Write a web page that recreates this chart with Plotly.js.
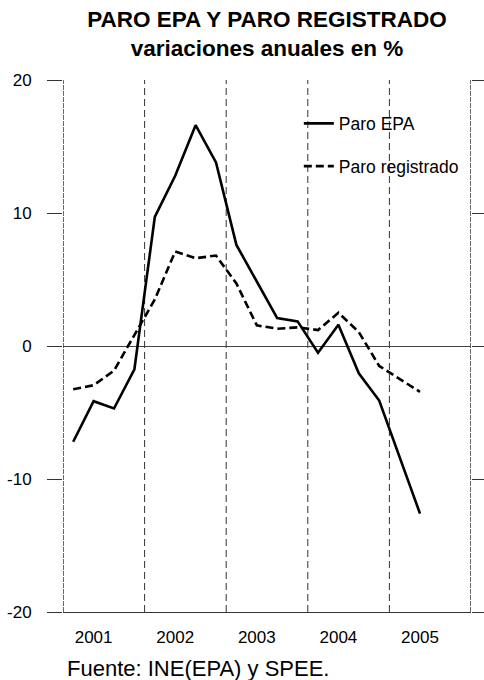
<!DOCTYPE html>
<html>
<head>
<meta charset="utf-8">
<script src="https://cdn.plot.ly/plotly-3.0.1.min.js"></script>
<style>
  html, body { margin: 0; padding: 0; background: #fff; }
  #chart { width: 484px; height: 680px; }
</style>
</head>
<body>
<div id="chart"></div>
<script>
// ---- Data (quarterly, annual % change) ----
const periodYear    = [2001,2001,2001,2001, 2002,2002,2002,2002, 2003,2003,2003,2003, 2004,2004,2004,2004, 2005,2005];
const periodQuarter = [1,2,3,4, 1,2,3,4, 1,2,3,4, 1,2,3,4, 1,2];
const paroEPA        = [-7.2, -4.15, -4.7, -1.75, 9.7, 12.8, 16.6, 13.8, 7.6, 4.9, 2.1, 1.85, -0.5, 1.6, -2.05, -4.1, -8.4, -12.6];
const paroRegistrado = [-3.25, -2.95, -1.85, 0.8, 3.5, 7.1, 6.6, 6.8, 4.7, 1.55, 1.3, 1.4, 1.2, 2.5, 1.05, -1.5, -2.5, -3.45];
const yearLabels = ["2001","2002","2003","2004","2005"];
const years = [2001, 2002, 2003, 2004, 2005];
const yTicks = [-20, -10, 0, 10, 20];

// quarter midpoints on a continuous year axis
const xq = periodYear.map((y, i) => y + (periodQuarter[i] - 0.5) / 4);

const FONT = "Liberation Sans, Arial, Helvetica, sans-serif";

const traces = [
  {
    x: xq, y: paroEPA, type: "scatter", mode: "lines", name: "Paro EPA",
    legendgroup: "a",
    line: { color: "#000", width: 2.6 }
  },
  {
    x: xq, y: paroRegistrado, type: "scatter", mode: "lines", name: "Paro registrado",
    legendgroup: "b",
    line: { color: "#000", width: 2.6, dash: "8px,4px" }
  }
];

const shapes = [];
// year separators
years.slice(1).forEach(y => shapes.push({
  type: "line", xref: "x", yref: "paper", x0: y, x1: y, y0: 0, y1: 1,
  line: { color: "#333", width: 1, dash: "7px,4px" }, layer: "below"
}));
// side frames
[years[0], years[years.length - 1] + 1].forEach(y => shapes.push({
  type: "line", xref: "x", yref: "paper", x0: y, x1: y, y0: 0, y1: 1,
  line: { color: "#444", width: 1.6, dash: "5px,1px" }, layer: "below"
}));

const layout = {
  width: 484, height: 680,
  margin: { l: 63, r: 13, t: 80, b: 68, pad: 0 },
  paper_bgcolor: "#fff", plot_bgcolor: "#fff",
  font: { family: FONT, color: "#000", size: 17 },
  title: {
    text: "<b>PARO EPA Y PARO REGISTRADO</b><br><b>variaciones anuales en %</b>",
    font: { family: FONT, size: 22.5, color: "#000" },
    x: 0.5, xref: "paper", xanchor: "center",
    y: 1, yref: "paper", yanchor: "bottom",
    pad: { b: 53 }
  },
  showlegend: true,
  legend: {
    x: 0.578, y: 0.952, xanchor: "left", yanchor: "top",
    bgcolor: "rgba(0,0,0,0)", borderwidth: 0,
    font: { family: FONT, size: 17.5, color: "#000" },
    traceorder: "grouped", tracegroupgap: 17
  },
  xaxis: {
    range: [2001, 2006], showgrid: false, zeroline: false,
    showline: true, linecolor: "#333", linewidth: 1,
    tickmode: "array", tickvals: years.map(y => y + 0.375), ticktext: yearLabels,
    ticks: "", ticklabelstandoff: 10,
    tickfont: { family: FONT, size: 17, color: "#000" },
    fixedrange: true
  },
  yaxis: {
    range: [-20, 20], showgrid: false,
    zeroline: true, zerolinecolor: "#444", zerolinewidth: 1,
    showline: false,
    tickmode: "array", tickvals: yTicks, ticktext: yTicks.map(String),
    ticks: "outside", ticklen: 15, tickwidth: 1, tickcolor: "#333",
    mirror: "ticks", ticklabelstandoff: 12,
    tickfont: { family: FONT, size: 17, color: "#000" },
    fixedrange: true
  },
  shapes: shapes,
  annotations: [{
    text: "Fuente: INE(EPA) y SPEE.", showarrow: false,
    xref: "paper", yref: "paper", x: 0.004, y: -0.133,
    xanchor: "left", yanchor: "bottom",
    font: { family: FONT, size: 22, color: "#000" }
  }]
};

Plotly.newPlot("chart", traces, layout, { displayModeBar: false, staticPlot: true });
</script>
</body>
</html>
